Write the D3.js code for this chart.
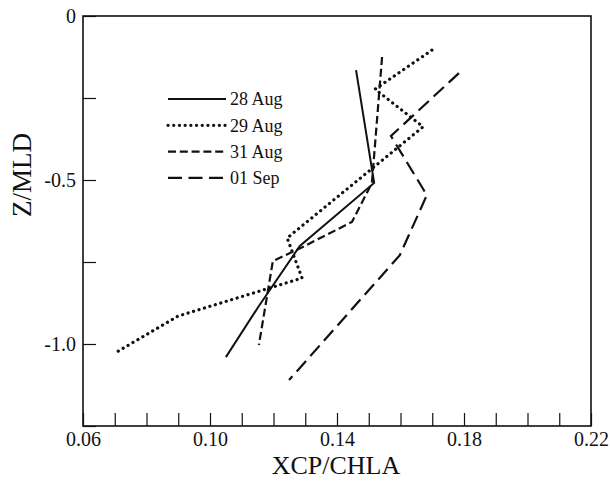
<!DOCTYPE html>
<html>
<head>
<meta charset="utf-8">
<script src="https://cdn.jsdelivr.net/npm/d3@7"></script>
<style>
  html, body { margin: 0; padding: 0; background: #fff; }
  svg { display: block; font-family: "Liberation Serif", "Times New Roman", serif; }
</style>
</head>
<body>
<svg id="chart" width="610" height="483"></svg>
<script>
// ---- data ----
const seriesNames = ["28 Aug", "29 Aug", "31 Aug", "01 Sep"];
const aug28X = [0.146, 0.1517, 0.1283, 0.1154, 0.105];
const aug28Y = [-0.165, -0.509, -0.701, -0.884, -1.04];
const aug29X = [0.1699, 0.152, 0.1671, 0.1243, 0.129, 0.0899, 0.0707];
const aug29Y = [-0.104, -0.223, -0.338, -0.677, -0.799, -0.915, -1.024];
const aug31X = [0.1542, 0.151, 0.1447, 0.1274, 0.1198, 0.1154];
const aug31Y = [-0.125, -0.509, -0.628, -0.713, -0.747, -1.003];
const sep01X = [0.1784, 0.157, 0.1683, 0.1598, 0.1249];
const sep01Y = [-0.174, -0.366, -0.546, -0.729, -1.11];
const xTickValues = [0.06,0.07,0.08,0.09,0.10,0.11,0.12,0.13,0.14,0.15,0.16,0.17,0.18,0.19,0.20,0.21,0.22];
const xTickLabels = ["0.06","0.10","0.14","0.18","0.22"];
const yTickValues = [0, -0.25, -0.5, -0.75, -1.0, -1.25];
const yTickLabels = ["0", "-0.5", "-1.0"];
const xTitle = "XCP/CHLA";
const yTitle = "Z/MLD";

// ---- layout ----
const L = 83, R = 591, T = 16, B = 426;
const ink = "#111";
const svg = d3.select("#chart");
const x = d3.scaleLinear().domain([0.06, 0.22]).range([L, R]);
const y = d3.scaleLinear().domain([-1.25, 0]).range([B, T]);

const fmtX = v => { const s = v.toFixed(2); return xTickLabels.includes(s) ? s : ""; };
const fmtY = v => { const s = v === 0 ? "0" : v.toFixed(1); return (yTickLabels.includes(s) && Math.abs(v*2 - Math.round(v*2)) < 1e-9) ? s : ""; };

// x axis (ticks inward)
const gx = svg.append("g").attr("transform", `translate(0,${B})`)
  .call(d3.axisBottom(x).tickValues(xTickValues).tickSizeInner(-13).tickSizeOuter(0).tickPadding(6).tickFormat(fmtX));
gx.select(".domain").remove();
gx.selectAll("line").attr("stroke", ink).attr("stroke-width", 1.2);
gx.selectAll("text").attr("fill", ink).style("font-size", "20px").style("font-family", "Liberation Serif");

// y axis (ticks inward)
const gy = svg.append("g").attr("transform", `translate(${L},0)`)
  .call(d3.axisLeft(y).tickValues(yTickValues).tickSizeInner(-13).tickSizeOuter(0).tickPadding(7).tickFormat(fmtY));
gy.select(".domain").remove();
gy.selectAll("line").attr("stroke", ink).attr("stroke-width", 1.2);
gy.selectAll("text").attr("fill", ink).style("font-size", "20px").style("font-family", "Liberation Serif");

// frame
svg.append("rect").attr("x", L).attr("y", T).attr("width", R - L).attr("height", B - T)
  .attr("fill", "none").attr("stroke", ink).attr("stroke-width", 1.6);

// axis titles
svg.append("text").attr("x", (L + R) / 2 - 1).attr("y", 474).attr("text-anchor", "middle")
  .attr("fill", ink).style("font-size", "26px").text(xTitle);
svg.append("text").attr("transform", `translate(31,${(T + B) / 2 - 46}) rotate(-90)`).attr("text-anchor", "middle")
  .attr("fill", ink).style("font-size", "27px").text(yTitle);

// series
const styles = [
  { dash: null, width: 2, cap: "butt" },
  { dash: "0.1 5.6", width: 3.2, cap: "round" },
  { dash: "8 3.8", width: 2.2, cap: "butt" },
  { dash: "14 6.5", width: 2.2, cap: "butt" }
];
const seriesData = [
  d3.zip(aug28X, aug28Y),
  d3.zip(aug29X, aug29Y),
  d3.zip(aug31X, aug31Y),
  d3.zip(sep01X, sep01Y)
];
const line = d3.line().x(d => x(d[0])).y(d => y(d[1]));
seriesData.forEach((pts, i) => {
  svg.append("path").attr("d", line(pts)).attr("fill", "none").attr("stroke", ink)
    .attr("stroke-width", styles[i].width).attr("stroke-linecap", styles[i].cap)
    .attr("stroke-linejoin", "miter")
    .attr("stroke-dasharray", styles[i].dash);
});

// legend
const lg = svg.append("g");
seriesNames.forEach((name, i) => {
  const cy = 99 + i * 26.3;
  lg.append("line").attr("x1", 168).attr("x2", 226).attr("y1", cy).attr("y2", cy)
    .attr("stroke", ink).attr("stroke-width", styles[i].width).attr("stroke-linecap", styles[i].cap)
    .attr("stroke-dasharray", styles[i].dash);
  lg.append("text").attr("x", 230).attr("y", cy).attr("dy", "0.35em").attr("fill", ink)
    .style("font-size", "18px").text(name);
});
</script>
</body>
</html>
